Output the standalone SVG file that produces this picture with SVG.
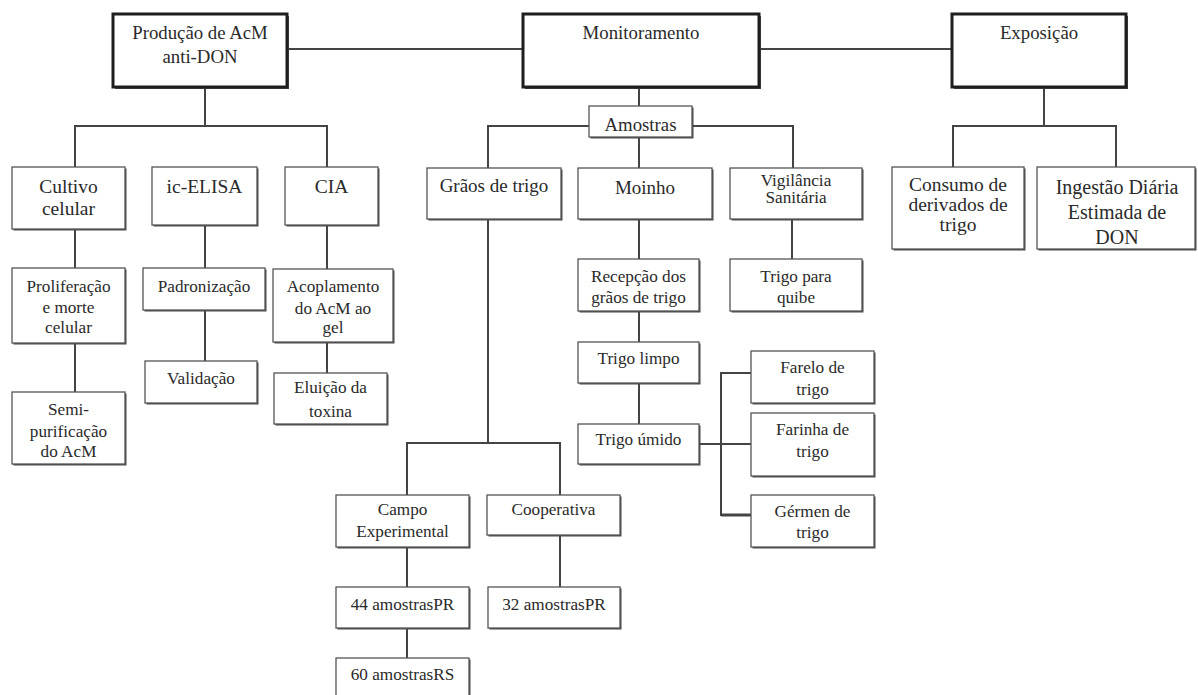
<svg xmlns="http://www.w3.org/2000/svg" width="1198" height="695" viewBox="0 0 1198 695">
  <style>
    .bg { fill: #ffffff; }
    .sh { fill: #4a4a4a; }
    .box { fill: #ffffff; stroke: #555555; stroke-width: 1.3; }
    .main { fill: #ffffff; stroke: #1e1e1e; stroke-width: 3; }
    .ln { fill: none; stroke: #444444; stroke-width: 2; }
    text { font-family: "Liberation Serif", "Times New Roman", serif; fill: #2a2a2a; text-anchor: middle; }
    .t17 { font-size: 18.8px; }
    .t18 { font-size: 19px; }
    .t19 { font-size: 19.5px; }
    .t20 { font-size: 20px; }
    .t16 { font-size: 17.2px; }
  </style>
  <rect class="bg" x="0" y="0" width="1198" height="695"/>

  <!-- connectors -->
  <g id="connectors">
    <path class="ln" d="M287,49 H523 M759,49 H952"/>
    <path class="ln" d="M205,87 V126 M75,167 V126 H327 V167"/>
    <path class="ln" d="M75,229 V268 M75,343 V392"/>
    <path class="ln" d="M205,225 V268 M205,310 V361"/>
    <path class="ln" d="M327,225 V269 M327,342 V373"/>
    <path class="ln" d="M639,87 V106 M589,126 H488 V168 M692,126 H793 V168 M639,137 V168"/>
    <path class="ln" d="M488,219 V443 M407,495 V443 H560 V495"/>
    <path class="ln" d="M407,547 V587 M407,628 V658 M560,535 V587"/>
    <path class="ln" d="M639,219 V259 M639,311 V342 M639,383 V424"/>
    <path class="ln" d="M699,444 H721 M751,373 H721 V515 H751 M721,444 H751"/>
    <path class="ln" d="M721,515 H751" style="stroke-width:3"/>
    <path class="ln" d="M792,219 V259"/>
    <path class="ln" d="M1044,87 V126 M953,167 V126 H1116 V167"/>
  </g>

  <!-- top level -->
  <g id="producao">
    <rect class="sh" x="115" y="16" width="174" height="73"/>
    <rect class="main" x="113" y="14" width="174" height="73"/>
    <text class="t17" x="200" y="39">Produção de AcM</text>
    <text class="t17" x="200" y="63">anti-DON</text>
  </g>
  <g id="monitoramento">
    <rect class="sh" x="525" y="16" width="236" height="73"/>
    <rect class="main" x="523" y="14" width="236" height="73"/>
    <text class="t17" x="641" y="39">Monitoramento</text>
  </g>
  <g id="exposicao">
    <rect class="sh" x="954" y="16" width="174" height="73"/>
    <rect class="main" x="952" y="14" width="174" height="73"/>
    <text class="t17" x="1039" y="39">Exposição</text>
  </g>

  <!-- production branch -->
  <g id="cultivo">
    <rect class="sh" x="13.5" y="168.5" width="113" height="62"/>
    <rect class="box" x="12" y="167" width="113" height="62"/>
    <text class="t19" x="68.5" y="193">Cultivo</text>
    <text class="t19" x="68.5" y="215">celular</text>
  </g>
  <g id="icelisa">
    <rect class="sh" x="153.5" y="168.5" width="105" height="58"/>
    <rect class="box" x="152" y="167" width="105" height="58"/>
    <text class="t19" x="204.5" y="193">ic-ELISA</text>
  </g>
  <g id="cia">
    <rect class="sh" x="286.5" y="168.5" width="93" height="58"/>
    <rect class="box" x="285" y="167" width="93" height="58"/>
    <text class="t19" x="331.5" y="193">CIA</text>
  </g>
  <g id="proliferacao">
    <rect class="sh" x="13.5" y="269.5" width="113" height="75"/>
    <rect class="box" x="12" y="268" width="113" height="75"/>
    <text class="t16" x="68.5" y="292">Proliferação</text>
    <text class="t16" x="68.5" y="313">e morte</text>
    <text class="t16" x="68.5" y="333">celular</text>
  </g>
  <g id="padronizacao">
    <rect class="sh" x="144.5" y="269.5" width="122" height="42"/>
    <rect class="box" x="143" y="268" width="122" height="42"/>
    <text class="t16" x="204" y="292">Padronização</text>
  </g>
  <g id="acoplamento">
    <rect class="sh" x="274.5" y="270.5" width="120" height="73"/>
    <rect class="box" x="273" y="269" width="120" height="73"/>
    <text class="t16" x="333" y="292">Acoplamento</text>
    <text class="t16" x="333" y="314">do AcM ao</text>
    <text class="t16" x="333" y="333">gel</text>
  </g>
  <g id="semipurificacao">
    <rect class="sh" x="13.5" y="393.5" width="113" height="72"/>
    <rect class="box" x="12" y="392" width="113" height="72"/>
    <text class="t16" x="68.5" y="415">Semi-</text>
    <text class="t16" x="68.5" y="437">purificação</text>
    <text class="t16" x="68.5" y="457">do AcM</text>
  </g>
  <g id="validacao">
    <rect class="sh" x="146.5" y="362.5" width="112" height="42"/>
    <rect class="box" x="145" y="361" width="112" height="42"/>
    <text class="t16" x="201" y="384">Validação</text>
  </g>
  <g id="eluicao">
    <rect class="sh" x="275.5" y="374.5" width="113" height="51"/>
    <rect class="box" x="274" y="373" width="113" height="51"/>
    <text class="t16" x="330.5" y="393">Eluição da</text>
    <text class="t16" x="330.5" y="417">toxina</text>
  </g>

  <!-- monitoring branch -->
  <g id="amostras">
    <rect class="sh" x="590.5" y="107.5" width="103" height="31"/>
    <rect class="box" x="589" y="106" width="103" height="31"/>
    <text class="t17" x="640.5" y="131">Amostras</text>
  </g>
  <g id="graos">
    <rect class="sh" x="428.5" y="169.5" width="134" height="51"/>
    <rect class="box" x="427" y="168" width="134" height="51"/>
    <text class="t18" x="494" y="192">Grãos de trigo</text>
  </g>
  <g id="moinho">
    <rect class="sh" x="579.5" y="169.5" width="134" height="51"/>
    <rect class="box" x="578" y="168" width="134" height="51"/>
    <text class="t18" x="645" y="194">Moinho</text>
  </g>
  <g id="vigilancia">
    <rect class="sh" x="731.5" y="169.5" width="132" height="51"/>
    <rect class="box" x="730" y="168" width="132" height="51"/>
    <text class="t16" x="796" y="186">Vigilância</text>
    <text class="t16" x="796" y="203">Sanitária</text>
  </g>
  <g id="recepcao">
    <rect class="sh" x="579.5" y="260.5" width="121" height="52"/>
    <rect class="box" x="578" y="259" width="121" height="52"/>
    <text class="t16" x="638.5" y="282">Recepção dos</text>
    <text class="t16" x="638.5" y="303">grãos de trigo</text>
  </g>
  <g id="trigolimpo">
    <rect class="sh" x="579.5" y="343.5" width="121" height="41"/>
    <rect class="box" x="578" y="342" width="121" height="41"/>
    <text class="t16" x="638.5" y="364">Trigo limpo</text>
  </g>
  <g id="trigoumido">
    <rect class="sh" x="579.5" y="425.5" width="121" height="40"/>
    <rect class="box" x="578" y="424" width="121" height="40"/>
    <text class="t16" x="638.5" y="445">Trigo úmido</text>
  </g>
  <g id="quibe">
    <rect class="sh" x="731.5" y="260.5" width="132" height="52"/>
    <rect class="box" x="730" y="259" width="132" height="52"/>
    <text class="t16" x="796" y="282">Trigo para</text>
    <text class="t16" x="796" y="303">quibe</text>
  </g>
  <g id="farelo">
    <rect class="sh" x="752.5" y="352.5" width="123" height="52"/>
    <rect class="box" x="751" y="351" width="123" height="52"/>
    <text class="t16" x="812.5" y="373">Farelo de</text>
    <text class="t16" x="812.5" y="395">trigo</text>
  </g>
  <g id="farinha">
    <rect class="sh" x="752.5" y="414.5" width="123" height="63"/>
    <rect class="box" x="751" y="413" width="123" height="63"/>
    <text class="t16" x="812.5" y="435">Farinha de</text>
    <text class="t16" x="812.5" y="457">trigo</text>
  </g>
  <g id="germen">
    <rect class="sh" x="752.5" y="496.5" width="123" height="52"/>
    <rect class="box" x="751" y="495" width="123" height="52"/>
    <text class="t16" x="812.5" y="517">Gérmen de</text>
    <text class="t16" x="812.5" y="538">trigo</text>
  </g>
  <g id="campo">
    <rect class="sh" x="337.5" y="496.5" width="133" height="52"/>
    <rect class="box" x="336" y="495" width="133" height="52"/>
    <text class="t16" x="402.5" y="515">Campo</text>
    <text class="t16" x="402.5" y="537">Experimental</text>
  </g>
  <g id="cooperativa">
    <rect class="sh" x="488.5" y="496.5" width="133" height="40"/>
    <rect class="box" x="487" y="495" width="133" height="40"/>
    <text class="t16" x="553.5" y="515">Cooperativa</text>
  </g>
  <g id="amostras44">
    <rect class="sh" x="337.5" y="588.5" width="133" height="41"/>
    <rect class="box" x="336" y="587" width="133" height="41"/>
    <text class="t16" x="402.5" y="610">44 amostrasPR</text>
  </g>
  <g id="amostras32">
    <rect class="sh" x="489.5" y="588.5" width="132" height="41"/>
    <rect class="box" x="488" y="587" width="132" height="41"/>
    <text class="t16" x="554" y="610">32 amostrasPR</text>
  </g>
  <g id="amostras60">
    <rect class="sh" x="337.5" y="659.5" width="133" height="45"/>
    <rect class="box" x="336" y="658" width="133" height="45"/>
    <text class="t16" x="402.5" y="680">60 amostrasRS</text>
  </g>

  <!-- exposure branch -->
  <g id="consumo">
    <rect class="sh" x="893.5" y="168.5" width="132" height="82"/>
    <rect class="box" x="892" y="167" width="132" height="82"/>
    <text class="t19" x="958" y="191">Consumo de</text>
    <text class="t19" x="958" y="211">derivados de</text>
    <text class="t19" x="958" y="231">trigo</text>
  </g>
  <g id="ingestao">
    <rect class="sh" x="1038.5" y="168.5" width="158" height="82"/>
    <rect class="box" x="1037" y="167" width="158" height="82"/>
    <text class="t20" x="1117" y="194">Ingestão Diária</text>
    <text class="t20" x="1117" y="219">Estimada de</text>
    <text class="t20" x="1117" y="244">DON</text>
  </g>
</svg>
